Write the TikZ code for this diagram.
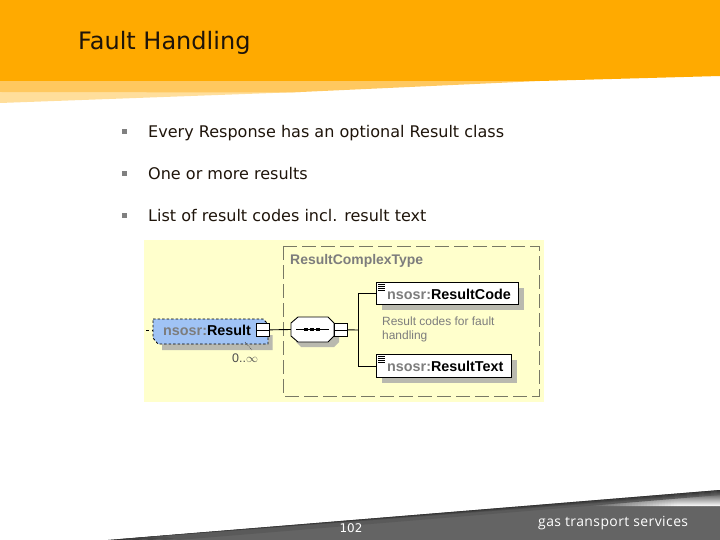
\documentclass[tikz,border=0pt]{standalone}
\usepackage{fontspec}
\setmainfont{DejaVu Sans}
\newfontfamily\arialf{Liberation Sans}
\newfontfamily\brandf[LetterSpace=3]{Open Sans}
\usetikzlibrary{shapes.geometric,calc}
\definecolor{orangeA}{RGB}{255,170,0}
\definecolor{orangeB}{RGB}{255,200,95}
\definecolor{orangeC}{RGB}{255,222,155}
\definecolor{paleY}{RGB}{255,255,204}
\definecolor{dashG}{RGB}{120,120,100}
\definecolor{nodeB}{RGB}{160,195,245}
\definecolor{shadowG}{RGB}{185,185,175}
\definecolor{txtG}{RGB}{125,125,125}
\definecolor{darkG}{RGB}{100,100,100}
\definecolor{inkT}{RGB}{30,20,10}
\tikzset{
  x=1bp,y=-1bp,
  titletext/.style={anchor=base west,font=\fontsize{24.1}{28}\selectfont,text=inkT,inner sep=0},
  bullettext/.style={anchor=base west,font=\fontsize{16.1}{19}\selectfont,text=inkT,inner sep=0},
  bulletmark/.style={fill=black!50,minimum size=5bp,inner sep=0},
  elementbox/.style={draw=black,fill=white,line width=0.9bp,inner sep=0,minimum height=22bp,anchor=north west},
  minusbox/.style={draw=black,fill=white,line width=0.7bp,minimum width=13bp,minimum height=13bp,inner sep=0,anchor=north west},
  conn/.style={draw=black,line width=0.9bp},
  shadowbox/.style={fill=shadowG,draw=none},
  elemtext/.style={anchor=base west,inner sep=0,font=\arialf\bfseries\fontsize{14.4}{16}\selectfont},
}
\begin{document}
\begin{tikzpicture}
\useasboundingbox (0,0) rectangle (720,540);
% header
\fill[orangeC] (0,92) -- (300,92) -- (0,103) -- cycle;
\fill[orangeB] (0,81) -- (540,81) -- (290,92.5) -- (0,92) -- cycle;
\fill[orangeA] (0,0) -- (720,0) -- (720,76) -- (540,81) -- (0,81) -- cycle;
\node[titletext] (title) at (78,49.3) {Fault Handling};
% bullets
\node[bulletmark] (b1) at (124.5,131.5) {};
\node[bullettext] (t1) at (148,138) {Every Response has an optional Result class};
\node[bulletmark] (b2) at (124.5,173.5) {};
\node[bullettext] (t2) at (148,179.5) {One or more results};
\node[bulletmark] (b3) at (124.5,215.5) {};
\node[bullettext] (t3) at (148,221.5) {List of result codes incl. result text};
% diagram background
\fill[paleY] (144,240) rectangle (544,402);
\draw[dashG,line width=0.8bp,dash pattern=on 14bp off 5bp] (283,246) rectangle (539,396);
\node[anchor=base west,inner sep=0,text=txtG,font=\arialf\bfseries\fontsize{14}{16}\selectfont] (ctype) at (290,265) {ResultComplexType};
% shadows
\fill[shadowbox] (162,344) -- (268,335) -- (272.5,335) -- (272.5,350) -- (162,350) -- cycle;
\fill[shadowbox] (382,288) rectangle (524,310);
\fill[shadowbox] (382,360) rectangle (517,383);
\fill[shadowbox] (298,323) -- (335,323) -- (339,329) -- (339,342) -- (334,347) -- (301,347) -- (296,342) -- cycle;
% result element
\draw[black,dash pattern=on 2.5bp off 2bp,fill=nodeB,line width=0.8bp] (153,319) -- (263,319) -- (268,324) -- (268,344) -- (158,344) -- (153,338) -- cycle;
\node[minimum width=115bp,minimum height=25bp,inner sep=0,anchor=north west] (res) at (153,319) {};
\node[elemtext] (restext) at (163,335.5) {\textcolor{txtG}{nsosr:}Result};
\node[minusbox] (m1) at (256,323) {};
\draw[black,line width=0.7bp] (m1.west) -- (m1.east);
\coordinate (resin) at (146,330);
\draw[black,line width=0.8bp,dash pattern=on 3bp off 3bp] (resin) -- (res.west |- resin);
\node[anchor=base west,inner sep=0,font=\arialf\fontsize{12.5}{14}\selectfont,text=black!70] (card) at (232,362) {0..$\infty$};
\draw[black!70,line width=0.5bp,dash pattern=on 1bp off 1bp] (245,342) -- (252,350);
% sequence
\node[minimum width=43bp,minimum height=25bp,inner sep=0] (seq) at (312.5,329.5) {};
\draw[conn,fill=white] (298,317) -- (328,317) -- (334,323) -- (334,336) -- (328,342) -- (298,342) -- (291,336) -- (291,323) -- cycle;
\draw[black,line width=0.8bp] (296,329.5) -- (329,329.5);
\foreach \xx in {306,312,318} \fill[black] (\xx-2,327.7) rectangle (\xx+2,331.3);
\node[minusbox] (m2) at (334,323) {};
\draw[black,line width=0.7bp] (m2.west) -- (m2.east);
\draw[conn] (m1.east) -- (seq.west);
% children
\node[elementbox,minimum width=142bp] (code) at (376,282) {};
\node[elementbox,minimum width=135bp,minimum height=23bp] (text) at (376,354) {};
\node[elemtext] (codetext) at (387,299) {\textcolor{txtG}{nsosr:}ResultCode};
\node[elemtext] (texttext) at (387,371) {\textcolor{txtG}{nsosr:}ResultText};
\foreach \yy in {284,286,288,290} {\draw[black,line width=0.6bp] (378,\yy) -- (385,\yy);}
\foreach \yy in {356,358,360,362} {\draw[black,line width=0.6bp] (378,\yy) -- (385,\yy);}
\coordinate (trunk) at (358,330);
\draw[conn] (m2.east) -- (trunk);
\draw[conn] (code.west) -- (trunk |- code.west) -- (trunk |- text.west) -- (text.west);
\node[anchor=north west,inner sep=0,align=left,text=txtG,font=\arialf\fontsize{12}{14}\selectfont] (desc) at (382,316.5) {Result codes for fault\\handling};
% footer
\fill[darkG] (108,540) -- (720,490) -- (720,540) -- cycle;
\begin{scope}
\clip (590,504.5) -- (720,494) -- (720,506) -- (590,506) -- cycle;
\foreach \xx in {590,593,...,719} {
  \pgfmathtruncatemacro{\tt}{min(100,max(0,(\xx-590)*100/85))}
  \shade[top color=darkG,bottom color=white!\tt!darkG] (\xx,494) rectangle (\xx+3.2,506);
}
\end{scope}
\foreach \d/\c in {0/50,1/60,2/70,3/80,4/90} {
  \definecolor{stripc}{RGB}{\c,\c,\c}
  \fill[stripc] ({108+\d*14},{540-\d*0.98}) -- (720,{490+\d}) -- (720,{491+\d}) -- ({108+(\d+1)*14},540) -- cycle;
}
\node[inner sep=0,text=white,font=\fontsize{12}{14}\selectfont] (page) at (351,528) {102};
\node[inner sep=0,anchor=base west,text=white,font=\brandf\fontsize{14}{16}\selectfont] (brand) at (538,526.5) {gas transport services};
\end{tikzpicture}
\end{document}
